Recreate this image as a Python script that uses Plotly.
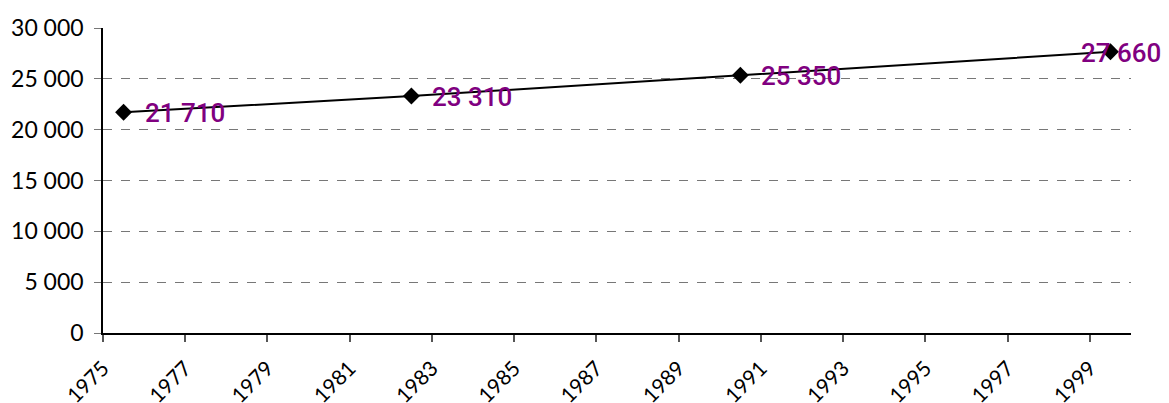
import plotly.graph_objects as go

years = [1975.5, 1982.5, 1990.5, 1999.5]
values = [21710, 23310, 25350, 27660]
labels = ["21 710", "23 310", "25 350", "27 660"]
label_xshift = [19, 19, 19, 11]
label_anchor = ["left", "left", "left", "center"]
x_ticks = list(range(1975, 2001, 2))
y_ticks = [0, 5000, 10000, 15000, 20000, 25000, 30000]
y_ticktext = ["0", "5 000", "10 000", "15 000", "20 000", "25 000", "30 000"]

tick_family = "Lato, sans-serif"

fig = go.Figure()
fig.add_trace(go.Scatter(
    x=years, y=values, mode="lines+markers",
    line=dict(color="black", width=2),
    marker=dict(symbol="diamond", size=13, color="black"),
    showlegend=False, cliponaxis=False, hoverinfo="skip",
))

for x, y, t, dx, a in zip(years, values, labels, label_xshift, label_anchor):
    fig.add_annotation(x=x, y=y, text=t, showarrow=False, xanchor=a, yanchor="middle",
                       xshift=dx, yshift=-1,
                       font=dict(family="Roboto", size=26, weight=500, color="#800080"))

fig.update_layout(
    width=1169, height=403,
    margin=dict(l=103, r=38, t=28, b=70, autoexpand=False),
    paper_bgcolor="white", plot_bgcolor="white",
    font=dict(family=tick_family, color="black"),
    xaxis=dict(range=[1975, 2000], tickvals=x_ticks, ticktext=[str(v) for v in x_ticks],
               tickangle=-45, showgrid=False, zeroline=False, automargin=False,
               showline=True, linecolor="black", linewidth=1.5,
               ticks="outside", ticklen=7, tickcolor="#555", tickwidth=1.5,
               ticklabelstandoff=6,
               tickfont=dict(size=21, family=tick_family)),
    yaxis=dict(range=[0, 30000], tickvals=y_ticks, ticktext=y_ticktext, automargin=False,
               showgrid=True, gridcolor="#777", griddash="dash", gridwidth=1.2,
               zeroline=False, showline=True, linecolor="black", linewidth=1.5,
               ticks="outside", ticklen=7, tickcolor="#777", tickwidth=1.2,
               ticklabelstandoff=6,
               tickfont=dict(size=23, family=tick_family)),
)

fig.write_html("out.html", config={"displayModeBar": False},
               post_script="document.body.style.margin='0';")
